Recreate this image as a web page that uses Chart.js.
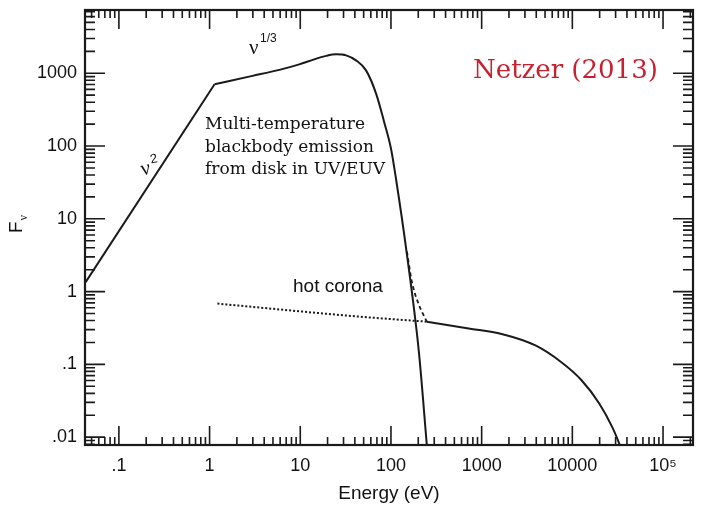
<!DOCTYPE html>
<html>
<head>
<meta charset="utf-8">
<script src="https://cdn.jsdelivr.net/npm/chart.js@4/dist/chart.umd.min.js"></script>
<style>
  html, body { margin: 0; padding: 0; background: #fff; }
  #wrap { width: 702px; height: 505px; }
</style>
</head>
<body>
<div id="wrap"><canvas id="sedChart" width="702" height="505"></canvas></div>
<script>
// power-law rise (nu^2) of the disk
let riseE = [0.043, 1.135];
let riseF = [1.35, 708];

// disk: nu^1/3 part and exponential drop
let diskE = [1.135, 2.97, 5.88, 9.75, 14.25, 19.3, 24.9, 32.0, 41.2, 53.1, 68.4, 83.8, 100, 113.5, 150, 203, 249];
let diskF = [708, 921, 1114, 1325, 1553, 1734, 1820, 1763, 1504, 1096, 529, 218, 92.7, 35.8, 3.23, 0.15, 0.0076];

// hot corona, dotted below the disk cut-off
let coronaLowE = [1.22, 44.5, 249];
let coronaLowF = [0.684, 0.453, 0.386];

// hot corona, solid above
let coronaHighE = [249, 720, 1660, 3920, 7570, 12560, 19800, 27800, 35000];
let coronaHighF = [0.386, 0.312, 0.262, 0.182, 0.107, 0.061, 0.029, 0.0134, 0.0068];

// sum of disk + corona (dashed)
let sumE = [150, 170, 203, 249];
let sumF = [3.55, 1.37, 0.66, 0.386];

// axes
let xMajor = [0.1, 1, 10, 100, 1000, 10000, 100000];
let xTickLabels = [".1", "1", "10", "100", "1000", "10000", "10\u2075"];
let yMajor = [0.01, 0.1, 1, 10, 100, 1000];
let yTickLabels = [".01", ".1", "1", "10", "100", "1000"];

function pts(xs, ys) {
    return xs.map((v, i) => ({ x: v, y: ys[i] }));
}

const INK = "#1a1a1a";

// ticks pointing inwards on all four sides + frame + text notes
const frameTicks = {
    id: "frameTicks",
    afterDraw(chart) {
        const { ctx, chartArea: a, scales } = chart;
        const xs = scales.x, ys = scales.y;
        ctx.save();
        ctx.strokeStyle = INK;
        ctx.lineWidth = 1.6;

        function decadeMinors(min, max) {
            let out = [];
            let p0 = Math.floor(Math.log10(min));
            let p1 = Math.ceil(Math.log10(max));
            for (let p = p0; p <= p1; p++) {
                for (let k = 2; k <= 9; k++) {
                    let v = k * Math.pow(10, p);
                    if (v > min && v < max) out.push(v);
                }
            }
            return out;
        }

        ctx.beginPath();
        decadeMinors(xs.min, xs.max).forEach(v => {
            let px = xs.getPixelForValue(v);
            ctx.moveTo(px, a.bottom); ctx.lineTo(px, a.bottom - 8);
            ctx.moveTo(px, a.top); ctx.lineTo(px, a.top + 8);
        });
        xMajor.forEach(v => {
            let px = xs.getPixelForValue(v);
            ctx.moveTo(px, a.bottom); ctx.lineTo(px, a.bottom - 19);
            ctx.moveTo(px, a.top); ctx.lineTo(px, a.top + 19);
        });
        decadeMinors(ys.min, ys.max).forEach(v => {
            let py = ys.getPixelForValue(v);
            ctx.moveTo(a.left, py); ctx.lineTo(a.left + 10, py);
            ctx.moveTo(a.right, py); ctx.lineTo(a.right - 10, py);
        });
        yMajor.forEach(v => {
            let py = ys.getPixelForValue(v);
            ctx.moveTo(a.left, py); ctx.lineTo(a.left + 20, py);
            ctx.moveTo(a.right, py); ctx.lineTo(a.right - 20, py);
        });
        ctx.stroke();

        ctx.lineWidth = 2.2;
        ctx.strokeRect(a.left, a.top, a.right - a.left, a.bottom - a.top);

        // ---- labels ----
        ctx.fillStyle = "#111";
        ctx.textBaseline = "middle";
        ctx.textAlign = "left";

        // nu^1/3
        ctx.font = "21px 'Liberation Serif'";
        ctx.fillText("\u03bd", 249, 48);
        ctx.font = "12px 'Liberation Sans'";
        ctx.fillText("1/3", 260, 39);

        // nu^2
        ctx.save();
        ctx.translate(141, 170);
        ctx.rotate(-0.2);
        ctx.font = "21px 'Liberation Serif'";
        ctx.fillText("\u03bd", 0, 0);
        ctx.font = "13px 'Liberation Sans'";
        ctx.fillText("2", 11, -8);
        ctx.restore();

        // disk text
        ctx.font = "17px 'DejaVu Serif'";
        ctx.fillText("Multi-temperature", 205, 125);
        ctx.fillText("blackbody emission", 205, 148);
        ctx.fillText("from disk in UV/EUV", 205, 170);

        // hot corona
        ctx.font = "19px 'Liberation Sans'";
        ctx.fillText("hot corona", 293, 287);

        // source
        ctx.fillStyle = "#c9202f";
        ctx.font = "26px 'DejaVu Serif'";
        ctx.fillText("Netzer (2013)", 473, 71);

        // y title F_nu
        ctx.fillStyle = "#111";
        ctx.save();
        ctx.translate(22, 233);
        ctx.rotate(-Math.PI / 2);
        ctx.textBaseline = "alphabetic";
        ctx.font = "19px 'Liberation Sans'";
        ctx.fillText("F", 0, 0);
        let fw = ctx.measureText("F").width;
        ctx.font = "12px 'Liberation Serif'";
        ctx.fillText("\u03bd", fw + 1, 5);
        ctx.restore();

        ctx.restore();
    }
};

let ctx = document.getElementById("sedChart");

new Chart(ctx, {
    type: "line",
    data: {
        datasets: [
            {
                label: "disk rise",
                data: pts(riseE, riseF),
                borderColor: INK,
                borderWidth: 2,
                tension: 0,
                pointRadius: 0
            },
            {
                label: "disk",
                data: pts(diskE, diskF),
                borderColor: INK,
                borderWidth: 2,
                cubicInterpolationMode: "monotone",
                pointRadius: 0
            },
            {
                label: "corona (below)",
                data: pts(coronaLowE, coronaLowF),
                borderColor: INK,
                borderWidth: 2,
                borderDash: [2, 2],
                cubicInterpolationMode: "monotone",
                pointRadius: 0
            },
            {
                label: "corona",
                data: pts(coronaHighE, coronaHighF),
                borderColor: INK,
                borderWidth: 2,
                cubicInterpolationMode: "monotone",
                pointRadius: 0
            },
            {
                label: "sum",
                data: pts(sumE, sumF),
                borderColor: INK,
                borderWidth: 1.8,
                borderDash: [4, 3],
                cubicInterpolationMode: "monotone",
                pointRadius: 0
            }
        ]
    },
    options: {
        responsive: false,
        animation: false,
        layout: { padding: { top: 10, right: 9, left: 0, bottom: 0 } },
        plugins: {
            legend: { display: false },
            tooltip: { enabled: false }
        },
        scales: {
            x: {
                type: "logarithmic",
                min: 0.0423,
                max: 214000,
                grid: { display: false, drawTicks: false, tickLength: 0 },
                border: { display: false },
                afterBuildTicks: s => { s.ticks = xMajor.map(v => ({ value: v })); },
                afterFit: s => { s.height = 60; s.paddingLeft = 0; s.paddingRight = 0; },
                ticks: {
                    autoSkip: false,
                    maxRotation: 0,
                    padding: 10,
                    color: "#111",
                    font: { family: "'Liberation Sans', Arial", size: 18 },
                    callback: (v, i) => xTickLabels[i]
                },
                title: {
                    display: true,
                    text: "Energy (eV)",
                    color: "#111",
                    padding: { top: 2, bottom: 0 },
                    font: { family: "'Liberation Sans', Arial", size: 19 }
                }
            },
            y: {
                type: "logarithmic",
                min: 0.0078,
                max: 7400,
                grid: { display: false, drawTicks: false, tickLength: 0 },
                border: { display: false },
                afterBuildTicks: s => { s.ticks = yMajor.map(v => ({ value: v })); },
                afterFit: s => { s.width = 85; s.paddingTop = 0; s.paddingBottom = 0; },
                ticks: {
                    autoSkip: false,
                    padding: 8,
                    color: "#111",
                    font: { family: "'Liberation Sans', Arial", size: 18 },
                    callback: (v, i) => yTickLabels[i]
                }
            }
        }
    },
    plugins: [frameTicks]
});
</script>
</body>
</html>
